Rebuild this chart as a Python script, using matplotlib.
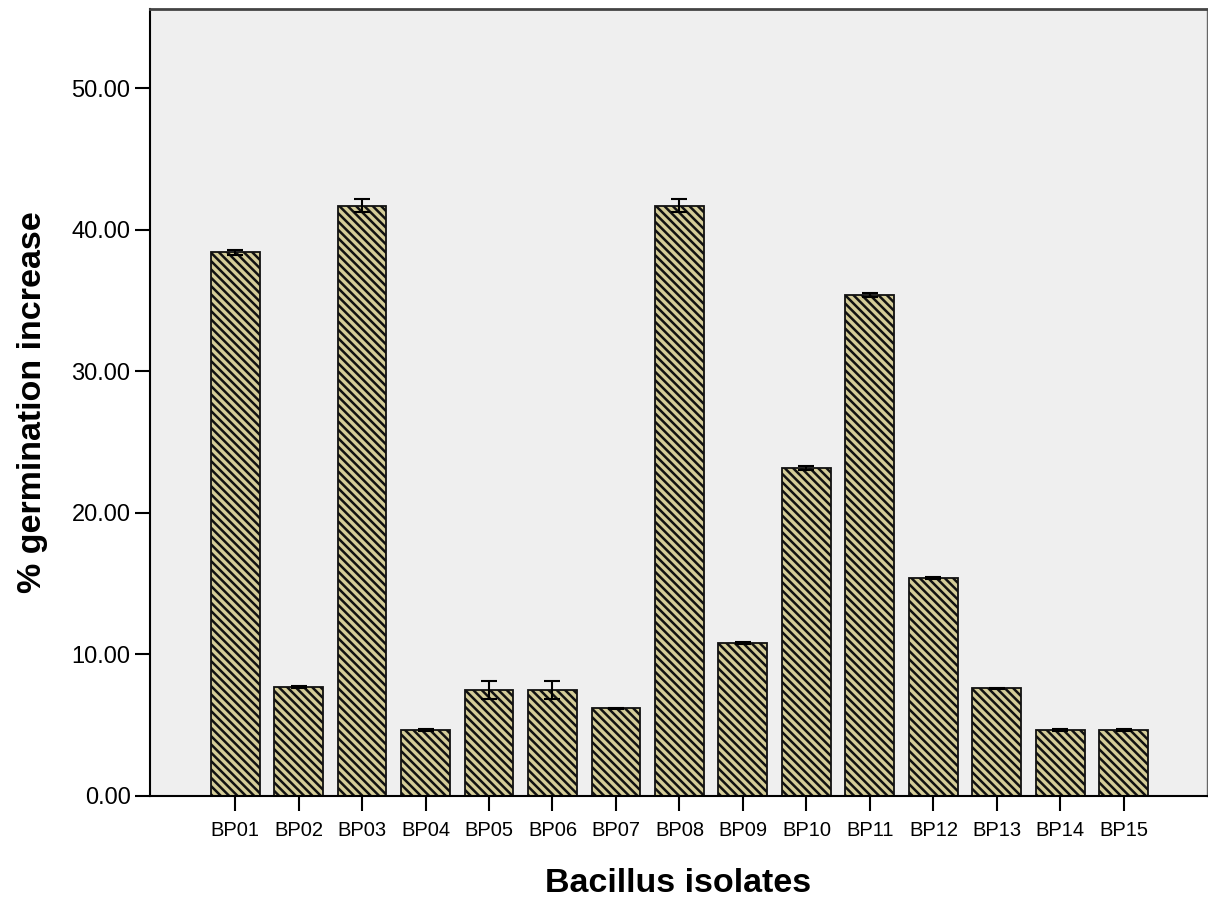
import matplotlib
matplotlib.use("Agg")
import matplotlib.pyplot as plt
import numpy as np

categories = ["BP01", "BP02", "BP03", "BP04", "BP05", "BP06", "BP07", "BP08",
              "BP09", "BP10", "BP11", "BP12", "BP13", "BP14", "BP15"]
values = [38.4, 7.7, 41.7, 4.65, 7.5, 7.5, 6.2, 41.7, 10.8, 23.15, 35.4, 15.4, 7.6, 4.65, 4.65]
errors = [0.2, 0.05, 0.45, 0.05, 0.65, 0.65, 0.05, 0.45, 0.05, 0.15, 0.12, 0.05, 0.05, 0.05, 0.05]
yticks = [0, 10, 20, 30, 40, 50]
ytick_labels = ["0.00", "10.00", "20.00", "30.00", "40.00", "50.00"]

plt.rcParams['font.family'] = ['Liberation Sans', 'DejaVu Sans']
plt.rcParams['hatch.linewidth'] = 1.8
plt.rcParams['hatch.color'] = '#2a2a2a'

fig = plt.figure(figsize=(12.08, 9), dpi=100)
ax = fig.add_axes([150/1208, 104/900, 1057/1208, 787/900])
ax.set_facecolor('#efefef')

x = np.arange(len(categories))
ax.bar(x, values, width=0.77, color='#d4cc98', edgecolor='#111111', linewidth=1.3,
       hatch='\\\\\\\\', zorder=2)
ax.errorbar(x, values, yerr=errors, fmt='none', ecolor='black', elinewidth=1.5,
            capsize=6, capthick=1.5, zorder=3)

ax.set_xlim(-1.34, 15.31)
ax.set_ylim(0, 55.6)
ax.set_xticks(x)
ax.set_xticklabels(categories, fontsize=14.5)
ax.set_yticks(yticks)
ax.set_yticklabels(ytick_labels, fontsize=17)
ax.tick_params(axis='both', direction='out', length=11, width=1.5, color='black')
ax.tick_params(axis='x', pad=7)
ax.tick_params(axis='y', pad=3)

for s in ax.spines.values():
    s.set_linewidth(1.5)
ax.spines['top'].set_color('#444444')
ax.spines['top'].set_linewidth(2.0)
ax.spines['right'].set_color('#666666')
ax.spines['right'].set_linewidth(1.0)

ax.set_xlabel('Bacillus isolates', fontsize=24.5, fontweight='bold', labelpad=20)
ax.set_ylabel('% germination increase', fontsize=24.5, fontweight='bold', labelpad=17)

fig.savefig('out.png', dpi=100, facecolor='white')
